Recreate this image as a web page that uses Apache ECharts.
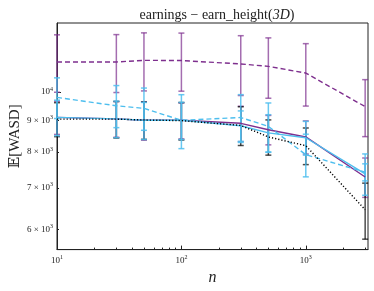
<!DOCTYPE html>
<html>
<head>
<meta charset="utf-8">
<script src="https://cdn.jsdelivr.net/npm/echarts@6/dist/echarts.min.js"></script>
<style>
html,body{margin:0;padding:0;background:#fff;}
#chart{width:374px;height:291px;}
</style>
</head>
<body>
<div id="chart"></div>
<script>
// ---- data ----
const nValues = [10, 30, 50, 100, 300, 500, 1000, 3000];

const purpleDashed    = [11180, 11180, 11250, 11240, 11100, 11000, 10730, 9470];
const purpleDashedErr = [1190, 1200, 1210, 1210, 1230, 1230, 1240, 1000];

const purpleSolid     = [9100, 9050, 9000, 9000, 8900, 8690, 8460, 7290];
const purpleSolidErr  = [560, 600, 640, 600, 585, 475, 520, 533];

const blueDashed      = [9800, 9500, 9410, 9000, 9095, 8800, 7920, 7420];
const blueDashedErr   = [740, 742, 738, 900, 807, 800, 627, 235];

const blueSolid       = [9100, 9050, 9000, 9000, 8820, 8590, 8435, 7376];
const blueSolidErr    = [600, 614, 620, 620, 500, 600, 529, 566];

const blackDotted     = [9040, 9040, 9010, 8990, 8830, 8460, 8190, 6454];
const blackDottedErr  = [570, 614, 625, 626, 635, 554, 557, 670];

const xMajorTicks = [10, 100, 1000];
const xMajorLabels = ['1', '2', '3'];          // exponents of 10
const xMinorTicks = [20,30,40,50,60,70,80,90,200,300,400,500,600,700,800,900,2000,3000];
const yMajorTicks = [10000];
const yMajorLabels = ['4'];
const yMinorTicks = [6000, 7000, 8000, 9000];
const yMinorLabels = ['6', '7', '8', '9'];      // mantissa, times 10^3

const xRange = [10, 3162.28];
const yRange = [5564, 12926];

const titleText = 'earnings − earn_height(';
const titleItalic = '3D';
const yName = '𝔼[WASD]';
const xName = 'n';

// ---- helpers ----
const L = v => Math.log10(v);
const PURPLE = '#7E2F8E';
const BLUE = '#4DBEEE';
const BLACK = '#000000';
const SERIF = "'Liberation Serif', 'DejaVu Serif', serif";

const richLab = {
  b: {fontFamily: SERIF, fontSize: 9, color: '#222'},
  s: {fontFamily: SERIF, fontSize: 6, color: '#222', verticalAlign: 'bottom', padding: [0, 0, 6, 0]}
};

function lineSeries(vals, color, type, width) {
  return {
    type: 'line',
    data: nValues.map((n, i) => [L(n), L(vals[i])]),
    showSymbol: false,
    symbol: 'none',
    lineStyle: {color: color, width: width, type: type},
    z: 5,
    animation: false
  };
}
function errSeries(vals, errs, color, opacity) {
  return {
    type: 'custom',
    data: nValues.map((n, i) => [L(n), L(vals[i] - errs[i]), L(vals[i] + errs[i])]),
    renderItem: function (params, api) {
      const x = api.value(0);
      const p1 = api.coord([x, api.value(1)]);
      const p2 = api.coord([x, api.value(2)]);
      const w = 3;
      const st = {stroke: color, lineWidth: 1.5, opacity: opacity};
      return {
        type: 'group',
        children: [
          {type: 'line', shape: {x1: p1[0], y1: p1[1], x2: p2[0], y2: p2[1]}, style: st},
          {type: 'line', shape: {x1: p1[0] - w, y1: p1[1], x2: p1[0] + w, y2: p1[1]}, style: st},
          {type: 'line', shape: {x1: p2[0] - w, y1: p2[1], x2: p2[0] + w, y2: p2[1]}, style: st}
        ]
      };
    },
    encode: {x: 0, y: [1, 2]},
    z: 3,
    animation: false
  };
}

const chart = echarts.init(document.getElementById('chart'), null, {renderer: 'canvas'});

const baseX = {
  type: 'value', min: L(xRange[0]), max: L(xRange[1]),
  splitLine: {show: false}, position: 'bottom'
};
const baseY = {
  type: 'value', min: L(yRange[0]), max: L(yRange[1]),
  splitLine: {show: false}, position: 'left'
};

chart.setOption({
  animation: false,
  backgroundColor: '#fff',
  title: {
    text: '{a|' + titleText + '}{i|' + titleItalic + '}{a|)}',
    left: 212, top: 3, textAlign: 'center',
    textStyle: {
      fontWeight: 'normal',
      rich: {
        a: {fontFamily: SERIF, fontSize: 14, fontWeight: 'normal', color: '#222'},
        i: {fontFamily: SERIF, fontSize: 14, fontWeight: 'normal', fontStyle: 'italic', color: '#222'}
      }
    }
  },
  grid: {left: 56, right: 6, top: 23, bottom: 37, show: true, borderColor: '#222', borderWidth: 1},
  xAxis: [
    Object.assign({}, baseX, {
      name: xName, nameLocation: 'middle', nameGap: 15,
      nameTextStyle: {fontFamily: SERIF, fontSize: 16, fontStyle: 'italic', color: '#222'},
      axisLine: {show: true, lineStyle: {color: '#222', width: 1}},
      axisTick: {show: true, inside: true, length: 4, lineStyle: {color: '#222'},
                 customValues: xMajorTicks.map(L)},
      axisLabel: {show: true, margin: 5, customValues: xMajorTicks.map(L),
                  formatter: v => '{b|10}{s|' + xMajorLabels[xMajorTicks.findIndex(t => Math.abs(L(t) - v) < 1e-6)] + '}',
                  rich: richLab}
    }),
    Object.assign({}, baseX, {
      axisLine: {show: false},
      axisTick: {show: true, inside: true, length: 2, lineStyle: {color: '#222'},
                 customValues: xMinorTicks.map(L)},
      axisLabel: {show: false}
    })
  ],
  yAxis: [
    Object.assign({}, baseY, {
      name: yName, nameLocation: 'middle', nameGap: 34, nameRotate: 90,
      nameTextStyle: {fontFamily: SERIF, fontSize: 15, color: '#222'},
      axisLine: {show: true, lineStyle: {color: '#222', width: 1}},
      axisTick: {show: true, inside: true, length: 4, lineStyle: {color: '#222'},
                 customValues: yMajorTicks.map(L)},
      axisLabel: {show: true, margin: 4, customValues: yMajorTicks.map(L),
                  formatter: v => '{b|10}{s|' + yMajorLabels[0] + '}',
                  rich: richLab}
    }),
    Object.assign({}, baseY, {
      axisLine: {show: false},
      axisTick: {show: true, inside: true, length: 2, lineStyle: {color: '#222'},
                 customValues: yMinorTicks.map(L)},
      axisLabel: {show: true, margin: 4, customValues: yMinorTicks.map(L),
                  formatter: v => {
                    const i = yMinorTicks.findIndex(t => Math.abs(L(t) - v) < 1e-6);
                    return '{b|' + yMinorLabels[i] + ' × 10}{s|3}';
                  },
                  rich: richLab}
    })
  ],
  series: [
    errSeries(purpleDashed, purpleDashedErr, PURPLE, 0.7),
    errSeries(purpleSolid, purpleSolidErr, PURPLE, 0.7),
    errSeries(blackDotted, blackDottedErr, BLACK, 0.7),
    errSeries(blueDashed, blueDashedErr, BLUE, 0.85),
    errSeries(blueSolid, blueSolidErr, BLUE, 0.85),
    lineSeries(purpleDashed, PURPLE, [5, 3], 1.4),
    lineSeries(purpleSolid, PURPLE, 'solid', 1.4),
    lineSeries(blueDashed, BLUE, [5, 3], 1.4),
    lineSeries(blueSolid, BLUE, 'solid', 1.4),
    lineSeries(blackDotted, BLACK, [1.2, 2], 1.4)
  ]
});
</script>
</body>
</html>
